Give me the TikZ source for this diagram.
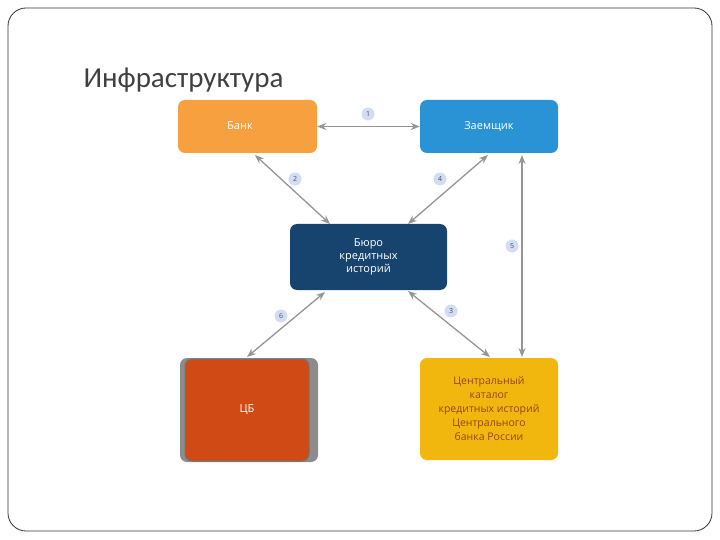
\documentclass[tikz,border=0pt]{standalone}
\usepackage{fontspec}
\setmainfont{Carlito}
\newfontfamily\osans{Open Sans}
\usetikzlibrary{arrows.meta}
\definecolor{bank}{HTML}{F7A040}
\definecolor{zaem}{HTML}{2A93D5}
\definecolor{buro}{HTML}{17446E}
\definecolor{cb}{HTML}{D04A15}
\definecolor{cat}{HTML}{F2B70F}
\definecolor{badge}{HTML}{D3DCF5}
\definecolor{arr}{HTML}{959595}
\tikzset{
 box/.style={rounded corners=7pt,inner sep=0pt,align=center,font=\osans\fontsize{11}{13}\selectfont},
 conn/.style={draw=arr,line width=1.3pt,{Stealth[length=9pt,width=7pt]}-{Stealth[length=9pt,width=7pt]}},
 num/.style={circle,fill=badge,inner sep=0pt,minimum size=13pt,font=\osans\fontsize{7}{7}\selectfont,text=black!70}
}
\begin{document}
\begin{tikzpicture}[x=1pt,y=-1pt]
\useasboundingbox (0,0) rectangle (720,540);
\draw[black!80,line width=0.8pt,rounded corners=18pt] (8,8) rectangle (712,531);
\node[anchor=west,text=black!75,font=\fontsize{29}{30}\selectfont] (title) at (80,80) {Инфраструктура};
\node[box,fill=bank,minimum width=139pt,minimum height=53pt] (bank) at (247.5,126.5) {};
\node[text=white,font=\osans\fontsize{11}{13}\selectfont] (bankt) at (240,126) {Банк};
\node[box,fill=zaem,text=white,minimum width=138pt,minimum height=53pt] (zaem) at (489,126.5) {Заемщик};
\node[box,fill=buro,text=white,minimum width=157pt,minimum height=66pt] (buro) at (368.5,257) {Бюро\\кредитных\\историй};
\node[box,fill=gray!90,minimum width=138pt,minimum height=104pt] (cbs) at (249,410) {};
\node[box,fill=cb,draw=black!55,line width=1pt,text=white,minimum width=124pt,minimum height=102pt] (cb) at (247,410) {ЦБ};
\node[box,fill=cat,text={rgb,255:red,150;green,70;blue,20},minimum width=138pt,minimum height=102pt,font=\osans\fontsize{10.5}{14}\selectfont] (cat) at (489,409) {Центральный\\каталог\\кредитных историй\\Центрального\\банка России};
\draw[conn] (bank.east) -- (zaem.west);
\draw[conn] (255,155) -- (330,224);
\draw[conn] (488,155) -- (408,224);
\draw[conn] (522,155) -- (522,357);
\draw[conn] (325,292) -- (247,357);
\draw[conn] (408,291) -- (490,357);
\node[num] (n1) at (368,114) {1};
\node[num] (n2) at (295,179) {2};
\node[num] (n4) at (440,179) {4};
\node[num] (n5) at (512,246) {5};
\node[num] (n6) at (281,316) {6};
\node[num] (n3) at (451,311) {3};
\end{tikzpicture}
\end{document}
